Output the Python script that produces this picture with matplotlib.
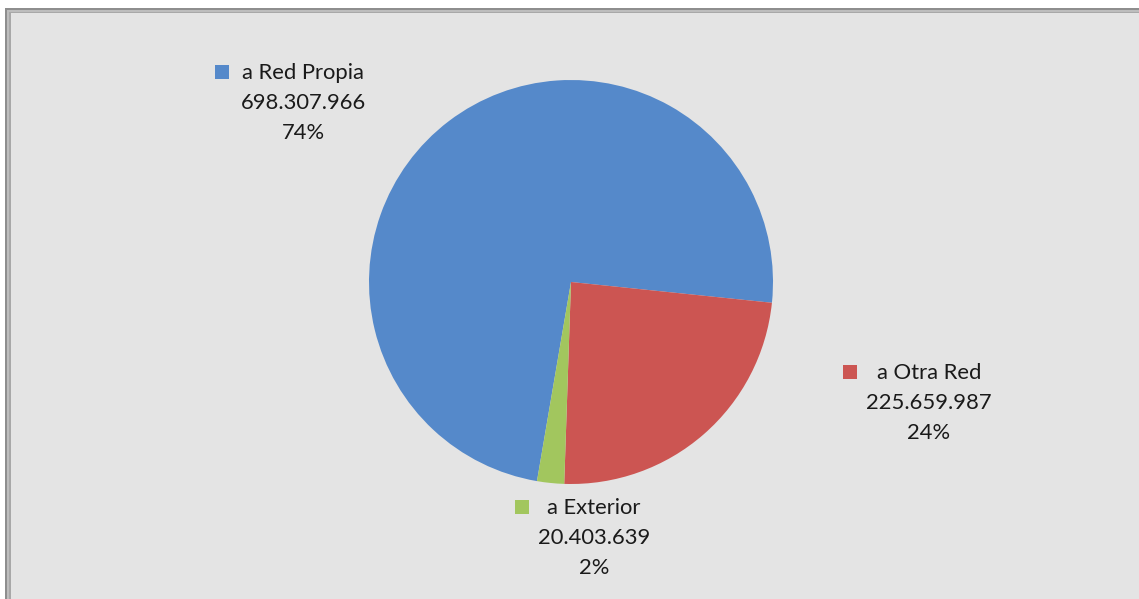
import matplotlib.pyplot as plt
from matplotlib.patches import Rectangle

labels = ["a Red Propia", "a Otra Red", "a Exterior"]
values = [698307966, 225659987, 20403639]
colors = ["#5589CA", "#CC5552", "#A2C65E"]

W, H = 1139, 599
fig = plt.figure(figsize=(W / 100, H / 100), dpi=100)
fig.patch.set_facecolor("white")


def px(x, y):
    """pixel coords (from top-left) -> figure fraction"""
    return x / W, 1 - y / H


# chart frame: grey double border, light grey fill
for (x0, y0, c) in [(5, 8, "#8E8E8E"), (7, 10, "#BDBDBD"), (9, 12, "#A8A8A8"), (11, 13, "#E4E4E4")]:
    fx, fy = px(x0, H + 20)
    fig.add_artist(Rectangle((fx, fy), 1.2, 1 - y0 / H - fy, transform=fig.transFigure,
                             facecolor=c, edgecolor="none", zorder=0))

# pie placed by pixel center / radius
cx, cy, r = 571, 282, 202
ax = fig.add_axes([(cx - r) / W, (H - cy - r) / H, 2 * r / W, 2 * r / H])
ax.pie(values, colors=colors, startangle=260.3, counterclock=False,
       radius=1, wedgeprops=dict(linewidth=0))
ax.set_xlim(-1, 1)
ax.set_ylim(-1, 1)
ax.set_aspect("equal")
ax.axis("off")

total = sum(values)
# label block positions in pixels: (text center x, first line y, marker x)
label_pos = [(303, 72, 222), (929, 372, 850), (594, 507, 522)]
for name, val, col, (tx, ty, mx) in zip(labels, values, colors, label_pos):
    pct = round(100 * val / total)
    num = f"{val:,}".replace(",", ".")
    fx, fy = px(tx, ty - 9)
    fig.text(fx, fy, f"{name}\n{num}\n{pct}%", ha="center", va="top",
             fontsize=15.8, family="Lato", color="#1A1A1A", linespacing=1.64)
    s = 14
    mfx, mfy = px(mx - s / 2, ty + s / 2)
    fig.add_artist(Rectangle((mfx, mfy), s / W, s / H, transform=fig.transFigure,
                             facecolor=col, edgecolor="none"))

fig.savefig("out.png", dpi=100)
